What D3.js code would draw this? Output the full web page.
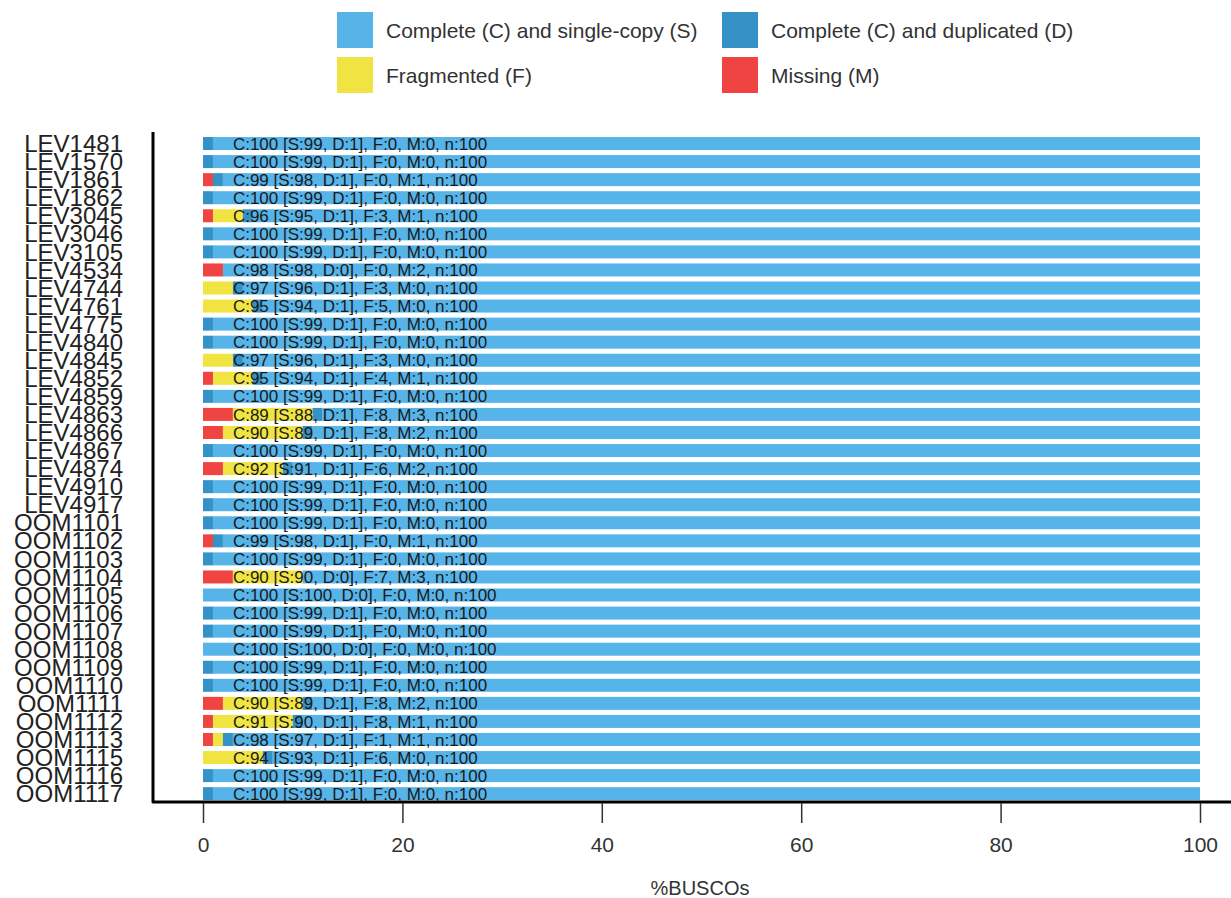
<!DOCTYPE html>
<html>
<head>
<meta charset="utf-8">
<script src="https://cdn.jsdelivr.net/npm/d3@7"></script>
<style>
  body { margin: 0; background: #fff; }
  svg { display: block; font-family: "Liberation Sans", Arial, sans-serif; }
</style>
</head>
<body>
<svg id="chart"></svg>
<script>
// BUSCO summary, one row per strain (percent of n=100)
const strains = ["LEV1481","LEV1570","LEV1861","LEV1862","LEV3045","LEV3046","LEV3105","LEV4534",
  "LEV4744","LEV4761","LEV4775","LEV4840","LEV4845","LEV4852","LEV4859","LEV4863","LEV4866",
  "LEV4867","LEV4874","LEV4910","LEV4917","OOM1101","OOM1102","OOM1103","OOM1104","OOM1105",
  "OOM1106","OOM1107","OOM1108","OOM1109","OOM1110","OOM1111","OOM1112","OOM1113","OOM1115",
  "OOM1116","OOM1117"];
const single     = [99,99,98,99,95,99,99,98,96,94,99,99,96,94,99,88,89,99,91,99,99,99,98,99,90,100,99,99,100,99,99,89,90,97,93,99,99];
const duplicated = [1,1,1,1,1,1,1,0,1,1,1,1,1,1,1,1,1,1,1,1,1,1,1,1,0,0,1,1,0,1,1,1,1,1,1,1,1];
const fragmented = [0,0,0,0,3,0,0,0,3,5,0,0,3,4,0,8,8,0,6,0,0,0,0,0,7,0,0,0,0,0,0,8,8,1,6,0,0];
const missing    = [0,0,1,0,1,0,0,2,0,0,0,0,0,1,0,3,2,0,2,0,0,0,1,0,3,0,0,0,0,0,0,2,1,1,0,0,0];
const totalBuscos = 100;
const xTicks = [0, 20, 40, 60, 80, 100];

// stacking order left to right: M, F, D, S
const categories = ["M", "F", "D", "S"];
const catColors = { S: "#56B4E9", D: "#3492C7", F: "#F0E442", M: "#F04442" };
const legendItems = [
  { key: "S", label: "Complete (C) and single-copy (S)" },
  { key: "D", label: "Complete (C) and duplicated (D)" },
  { key: "F", label: "Fragmented (F)" },
  { key: "M", label: "Missing (M)" }
];

const width = 1231, height = 898;
const svg = d3.select("#chart").attr("width", width).attr("height", height);

const rows = strains.map((name, i) => ({
  name, S: single[i], D: duplicated[i], F: fragmented[i], M: missing[i]
}));

const x = d3.scaleLinear().domain([0, 100]).range([203, 1200]);
const y = d3.scaleBand().domain(strains).range([134.5, 802.7])
  .paddingInner(0.28).paddingOuter(0.14);

const stack = d3.stack().keys(categories)(rows);

// bars
svg.append("g").selectAll("g")
  .data(stack)
  .join("g")
    .attr("fill", d => catColors[d.key])
  .selectAll("rect")
  .data(d => d)
  .join("rect")
    .attr("x", d => x(d[0]))
    .attr("y", d => y(d.data.name))
    .attr("width", d => x(d[1]) - x(d[0]))
    .attr("height", y.bandwidth());

// text on bars
svg.append("g").selectAll("text")
  .data(rows)
  .join("text")
    .attr("x", x(3))
    .attr("y", d => y(d.name) + y.bandwidth() / 2)
    .attr("dy", "0.36em")
    .attr("font-size", 17)
    .attr("fill", "#1a1a1a")
    .text(d => `C:${d.S + d.D} [S:${d.S}, D:${d.D}], F:${d.F}, M:${d.M}, n:${totalBuscos}`);

// y labels (they overlap in the original too)
svg.append("g").selectAll("text")
  .data(strains)
  .join("text")
    .attr("x", 123)
    .attr("y", d => y(d) + y.bandwidth() / 2)
    .attr("dy", "0.36em")
    .attr("text-anchor", "end")
    .attr("font-size", 24)
    .attr("fill", "#222")
    .text(d => d);

// axis frame (left + bottom)
svg.append("path")
  .attr("d", `M153,132V802H${width}`)
  .attr("fill", "none")
  .attr("stroke", "#000")
  .attr("stroke-width", 3)
  .attr("stroke-linejoin", "round");

// x ticks
const xAxis = svg.append("g").attr("transform", "translate(0,803)")
  .call(d3.axisBottom(x).tickValues(xTicks).tickSize(20).tickPadding(14));
xAxis.select(".domain").remove();
xAxis.selectAll(".tick line").attr("stroke", "#333").attr("stroke-width", 1.5);
xAxis.selectAll(".tick text")
  .attr("font-family", "Liberation Sans, Arial, sans-serif")
  .attr("font-size", 21).attr("fill", "#333");

svg.append("text")
  .attr("x", 700).attr("y", 895)
  .attr("text-anchor", "middle")
  .attr("font-size", 20).attr("fill", "#333")
  .text("%BUSCOs");

// legend
const legend = svg.append("g").selectAll("g")
  .data(legendItems)
  .join("g")
    .attr("transform", (d, i) => `translate(${i % 2 ? 722 : 337},${i < 2 ? 12 : 57})`);
legend.append("rect")
  .attr("width", 36).attr("height", 36)
  .attr("fill", d => catColors[d.key]);
legend.append("text")
  .attr("x", 49).attr("y", 18).attr("dy", "0.36em")
  .attr("font-size", 21).attr("fill", "#333")
  .text(d => d.label);
</script>
</body>
</html>
